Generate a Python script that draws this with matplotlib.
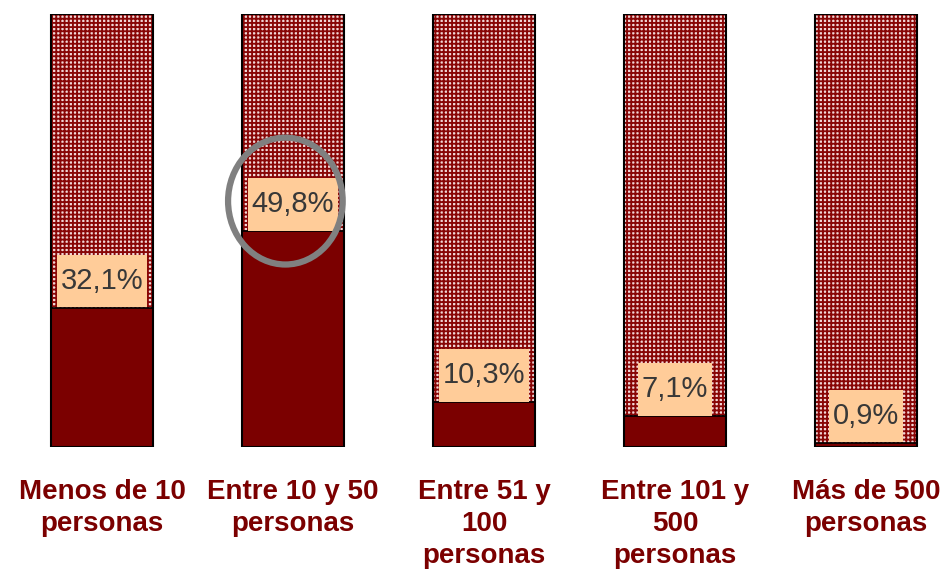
import matplotlib.pyplot as plt
from matplotlib.patches import Ellipse
from matplotlib.path import Path

plt.rcParams['font.family'] = ['Liberation Sans', 'DejaVu Sans']
plt.rcParams['hatch.linewidth'] = 1.35

categories = ['Menos de 10\npersonas', 'Entre 10 y 50\npersonas', 'Entre 51 y\n100\npersonas',
              'Entre 101 y\n500\npersonas', 'Más de 500\npersonas']
values = [32.1, 49.8, 10.3, 7.1, 0.9]
labels = ['32,1%', '49,8%', '10,3%', '7,1%', '0,9%']
highlight = 1  # circled bar

dark_red = '#7b0000'
x = list(range(len(values)))
rest = [100 - v for v in values]


def label_box(x0, y0, width, height, mutation_size):
    # rectangle with more padding top/bottom than left/right
    px = 0.14 * mutation_size
    py = 0.42 * mutation_size
    x0, y0 = x0 - px, y0 - py
    x1, y1 = x0 + width + 2 * px, y0 + height + 2 * py
    return Path([(x0, y0), (x1, y0), (x1, y1), (x0, y1), (x0, y0)], closed=True)


fig = plt.figure(figsize=(9.52, 5.75), dpi=100)
ax = fig.add_axes([0, 0.2226, 1, 0.753])

w = 0.53
ax.bar(x, rest, bottom=values, width=w, color='#f2d8d8', edgecolor='#880606',
       linewidth=0, hatch='++++')
ax.bar(x, values, width=w, color=dark_red, edgecolor='black', linewidth=1.2)
ax.bar(x, [100] * len(x), width=w, fill=False, edgecolor='black', linewidth=1.5)

for i, v in enumerate(values):
    ax.annotate(labels[i], (x[i], v), xytext=(0, 27), textcoords='offset pixels',
                ha='center', va='center', fontsize=21, color='#383838', zorder=4,
                bbox=dict(boxstyle=label_box, fc='#ffcc99', ec='none'))

ell = Ellipse((x[highlight] - 0.04, values[highlight] + 7), 0.6, 29.3,
              fill=False, edgecolor='#808080', linewidth=4.5, clip_on=False, zorder=5)
ax.add_patch(ell)

ax.set_xlim(-0.534, 4.45)
ax.set_ylim(0, 100)
ax.set_xticks(x)
ax.set_xticklabels(categories, fontsize=20, fontweight='bold', color=dark_red,
                   linespacing=1.3)
ax.tick_params(axis='x', length=0, pad=23)
ax.set_yticks([])
for s in ax.spines.values():
    s.set_visible(False)

plt.savefig('out.png', dpi=100)
